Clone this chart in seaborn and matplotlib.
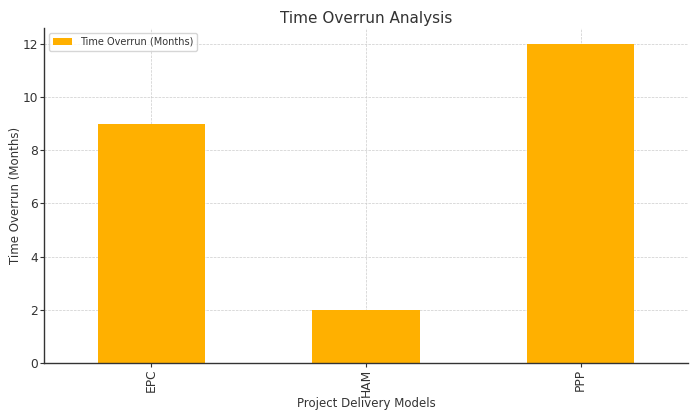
import matplotlib
matplotlib.use("Agg")
import matplotlib.pyplot as plt
import seaborn as sns
import pandas as pd

models = ["EPC", "HAM", "PPP"]
overrun = [9, 2, 12]

sns.set_theme(style="white")
plt.rcParams['font.family'] = ['DejaVu Sans']
txt = "#333333"

df = pd.DataFrame({"model": models, "overrun": overrun})
fig = plt.figure(figsize=(6.99, 4.19), dpi=100)
ax = fig.add_axes([0.063, 0.134, 0.921, 0.799])
sns.barplot(data=df, x="model", y="overrun", color="#FFB000", saturation=1,
            width=0.5, label="Time Overrun (Months)", linewidth=0, ax=ax)
ax.set_ylim(0, 12.6)
ax.set_xlim(-0.5, 2.5)
ax.grid(True, linestyle="--", linewidth=0.5, color="#cccccc")
ax.set_axisbelow(True)
for s in ["top", "right"]:
    ax.spines[s].set_visible(False)
for s in ["left", "bottom"]:
    ax.spines[s].set_color(txt)
    ax.spines[s].set_linewidth(1.0)
ax.tick_params(axis="both", colors=txt, labelsize=8.8, length=3, width=0.8, pad=1.2, left=True, bottom=True)
plt.setp(ax.get_xticklabels(), rotation=90)
ax.set_title("Time Overrun Analysis", fontsize=11, color=txt, pad=4)
ax.set_xlabel("Project Delivery Models", fontsize=8.5, color=txt, labelpad=0)
ax.set_ylabel("Time Overrun (Months)", fontsize=8.5, color=txt, labelpad=0.5)
leg = ax.legend(loc="upper left", fontsize=7, frameon=True)
for t in leg.get_texts():
    t.set_color(txt)
fig.savefig("out.png", dpi=100)
